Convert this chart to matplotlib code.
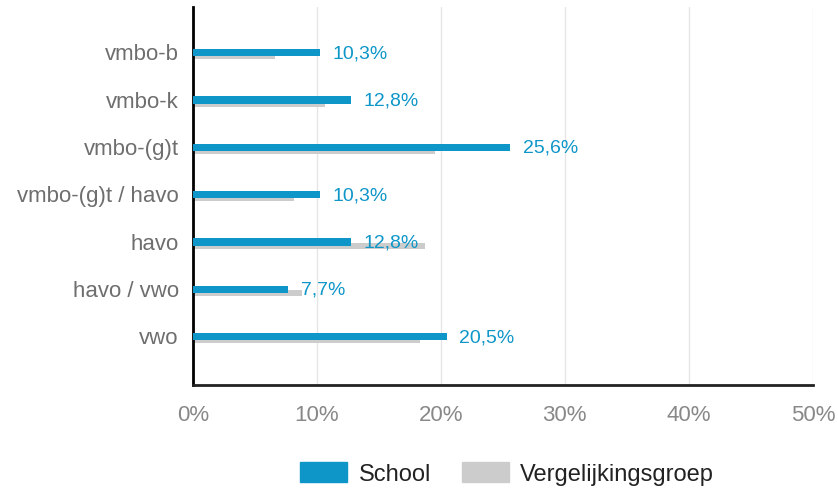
import matplotlib
matplotlib.use("Agg")
import matplotlib.pyplot as plt
import numpy as np
from matplotlib.patches import Patch
from matplotlib.ticker import FuncFormatter

plt.rcParams["font.family"] = ["Liberation Sans", "DejaVu Sans"]

categories = ["vmbo-b", "vmbo-k", "vmbo-(g)t", "vmbo-(g)t / havo", "havo", "havo / vwo", "vwo"]
school = [10.3, 12.8, 25.6, 10.3, 12.8, 7.7, 20.5]
vergelijking = [6.6, 10.7, 19.5, 8.2, 18.7, 8.8, 18.3]

BLUE = "#0e96c8"
GRAY = "#cccccc"

fig = plt.figure(figsize=(8.38, 4.89), dpi=100)
ax = fig.add_axes([0.230, 0.211, 0.740, 0.772])

y = np.arange(len(categories))
ax.barh(y + 0.06, vergelijking, height=0.12, color=GRAY, zorder=2)
ax.barh(y - 0.02, school, height=0.15, color=BLUE, zorder=3)

for yi, v in zip(y, school):
    ax.text(v + 1.0, yi - 0.02, f"{v:.1f}%".replace(".", ","), color=BLUE,
            fontsize=14, va="center", ha="left", zorder=4)

ax.set_xlim(0, 50)
ax.set_ylim(len(categories) - 1 + 1.0, -0.98)
ax.set_yticks(y - 0.05)
ax.set_yticklabels(categories, fontsize=16, color="#6e6e6e")
ax.set_xticks(np.arange(0, 51, 10))
ax.xaxis.set_major_formatter(FuncFormatter(lambda v, p: f"{v:.0f}%"))
ax.tick_params(axis="x", labelsize=16, labelcolor="#888888", length=0, pad=14)
ax.tick_params(axis="y", length=0, pad=10)
ax.grid(axis="x", color="#e6e6e6", linewidth=1, zorder=0)
ax.set_axisbelow(True)

for s in ["top", "right"]:
    ax.spines[s].set_visible(False)
ax.spines["left"].set_color("black")
ax.spines["left"].set_linewidth(2)
ax.spines["bottom"].set_color("#222222")
ax.spines["bottom"].set_linewidth(2)

handles = [Patch(color=BLUE, label="School"), Patch(color=GRAY, label="Vergelijkingsgroep")]
fig.legend(handles=handles, loc="center", bbox_to_anchor=(0.605, 0.03), ncol=2,
           frameon=False, fontsize=17, handlelength=2.0, handleheight=0.95,
           columnspacing=1.3, handletextpad=0.47, borderpad=0, labelcolor="#222222")

fig.savefig("out.png", dpi=100)
